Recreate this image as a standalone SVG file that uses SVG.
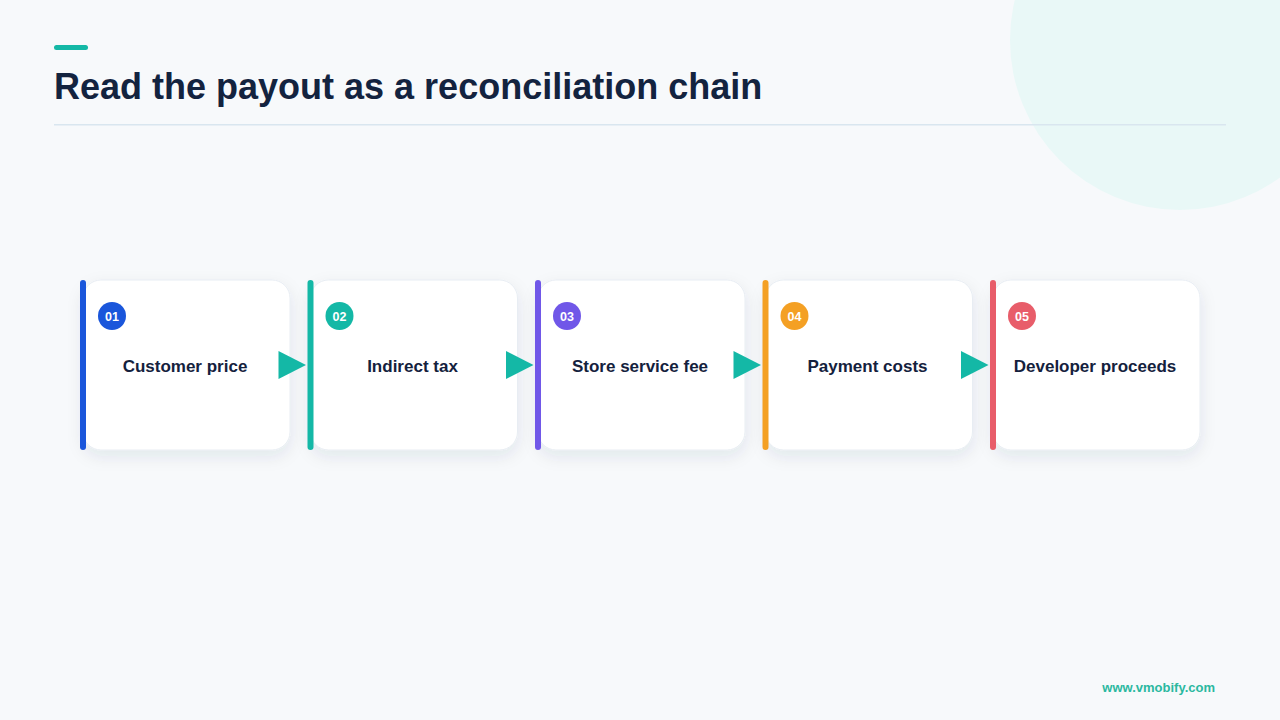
<svg xmlns="http://www.w3.org/2000/svg" width="1280" height="720" viewBox="0 0 1280 720">
  <defs>
    <filter id="shadow" x="-20%" y="-20%" width="140%" height="150%">
      <feDropShadow dx="0" dy="6" stdDeviation="8" flood-color="#1e2a4a" flood-opacity="0.09"/>
    </filter>
    <style>
      .card { fill: #ffffff; stroke: #e8edf3; stroke-width: 1; filter: url(#shadow); }
      .num { font-family: "Liberation Sans", Arial, sans-serif; font-weight: bold; font-size: 12.5px; fill: #ffffff; text-anchor: middle; }
      .label { font-family: "Liberation Sans", Arial, sans-serif; font-weight: bold; font-size: 17px; fill: #14213d; text-anchor: middle; }
      .arrow { fill: #14b8a6; }
    </style>
  </defs>
  <rect width="1280" height="720" fill="#f7f9fb"/>
  <circle cx="1180" cy="40" r="170" fill="#e9f8f7"/>
  <g id="header">
    <rect x="54" y="45" width="34" height="5" rx="2.5" fill="#14b8a6"/>
    <text x="54" y="99" font-family="Liberation Sans, Arial, sans-serif" font-weight="bold" font-size="36" fill="#13233f">Read the payout as a reconciliation chain</text>
    <rect x="54" y="124" width="1172" height="1.5" fill="#d9e6ef"/>
  </g>
  <g id="node-1">
    <rect class="card" x="83" y="280" width="207" height="170" rx="18"/>
    <rect x="80" y="280" width="6" height="170" rx="3" fill="#1a56db"/>
    <circle cx="112" cy="316" r="14" fill="#1a56db"/>
    <text class="num" x="112" y="320.5">01</text>
    <text class="label" x="185" y="372">Customer price</text>
  </g>
  <g id="node-2">
    <rect class="card" x="310.5" y="280" width="207" height="170" rx="18"/>
    <rect x="307.5" y="280" width="6" height="170" rx="3" fill="#14b8a6"/>
    <circle cx="339.5" cy="316" r="14" fill="#14b8a6"/>
    <text class="num" x="339.5" y="320.5">02</text>
    <text class="label" x="412.5" y="372">Indirect tax</text>
  </g>
  <g id="node-3">
    <rect class="card" x="538" y="280" width="207" height="170" rx="18"/>
    <rect x="535" y="280" width="6" height="170" rx="3" fill="#7057e8"/>
    <circle cx="567" cy="316" r="14" fill="#7057e8"/>
    <text class="num" x="567" y="320.5">03</text>
    <text class="label" x="640" y="372">Store service fee</text>
  </g>
  <g id="node-4">
    <rect class="card" x="765.5" y="280" width="207" height="170" rx="18"/>
    <rect x="762.5" y="280" width="6" height="170" rx="3" fill="#f4a024"/>
    <circle cx="794.5" cy="316" r="14" fill="#f4a024"/>
    <text class="num" x="794.5" y="320.5">04</text>
    <text class="label" x="867.5" y="372">Payment costs</text>
  </g>
  <g id="node-5">
    <rect class="card" x="993" y="280" width="207" height="170" rx="18"/>
    <rect x="990" y="280" width="6" height="170" rx="3" fill="#e85d6a"/>
    <circle cx="1022" cy="316" r="14" fill="#e85d6a"/>
    <text class="num" x="1022" y="320.5">05</text>
    <text class="label" x="1095" y="372">Developer proceeds</text>
  </g>
  <g id="connectors">
    <polygon class="arrow" points="278.5,351 306,365 278.5,379"/>
    <polygon class="arrow" points="506,351 533.5,365 506,379"/>
    <polygon class="arrow" points="733.5,351 761,365 733.5,379"/>
    <polygon class="arrow" points="961,351 988.5,365 961,379"/>
  </g>
  <text x="1215" y="692" text-anchor="end" font-family="Liberation Sans, Arial, sans-serif" font-weight="bold" font-size="13" fill="#2bb8a0">www.vmobify.com</text>
</svg>
